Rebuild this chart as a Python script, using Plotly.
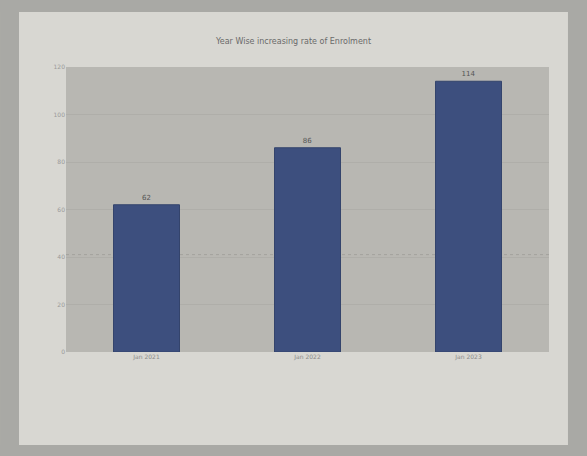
import plotly.graph_objects as go

categories = ["Jan 2021", "Jan 2022", "Jan 2023"]
values = [62, 86, 114]
title_text = "Year Wise increasing rate of Enrolment"
y_ticks = [0, 20, 40, 60, 80, 100, 120]

fig = go.Figure()
fig.add_trace(go.Bar(
    x=categories, y=values, width=0.41,
    marker=dict(color="#3d4f7e", line=dict(color="#34446c", width=1)),
    text=[str(v) for v in values], textposition="outside",
    textfont=dict(size=7, color="#555555", family="DejaVu Sans"),
    cliponaxis=False,
))

border = "#a9a9a5"
fig.update_layout(
    width=587, height=456,
    margin=dict(l=66, r=38, t=67, b=104),
    paper_bgcolor="#d8d7d2",
    plot_bgcolor="#b8b7b2",
    showlegend=False,
    title=dict(text=title_text, x=0.5, xanchor="center", y=0.91, yanchor="middle",
               font=dict(size=8, color="#6a6a6a", family="DejaVu Sans")),
    font=dict(family="DejaVu Sans", size=6, color="#8a8a8a"),
    xaxis=dict(showgrid=False, ticks="", tickfont=dict(size=6, color="#8a8a8a"),
               showline=False),
    yaxis=dict(range=[0, 120], tickvals=y_ticks, showgrid=True,
               gridcolor="#afaea9", gridwidth=1, zeroline=False,
               tickfont=dict(size=6, color="#9a9a9a"), ticks="", showline=False),
    bargap=0.59,
    shapes=[
        dict(type="rect", xref="paper", yref="paper", x0=-0.1366, x1=-0.0973, y0=-0.37, y1=1.24,
             fillcolor=border, line=dict(width=0), layer="above"),
        dict(type="rect", xref="paper", yref="paper", x0=1.0393, x1=1.08, y0=-0.37, y1=1.24,
             fillcolor=border, line=dict(width=0), layer="above"),
        dict(type="rect", xref="paper", yref="paper", x0=-0.14, x1=1.08, y0=1.193, y1=1.24,
             fillcolor=border, line=dict(width=0), layer="above"),
        dict(type="rect", xref="paper", yref="paper", x0=-0.14, x1=1.08, y0=-0.37, y1=-0.326,
             fillcolor=border, line=dict(width=0), layer="above"),
        dict(type="line", xref="paper", yref="y", x0=0, x1=1, y0=41, y1=41,
             line=dict(color="#a3a29d", width=1, dash="dot"), layer="below"),
    ],
)

fig.write_html("out.html")
